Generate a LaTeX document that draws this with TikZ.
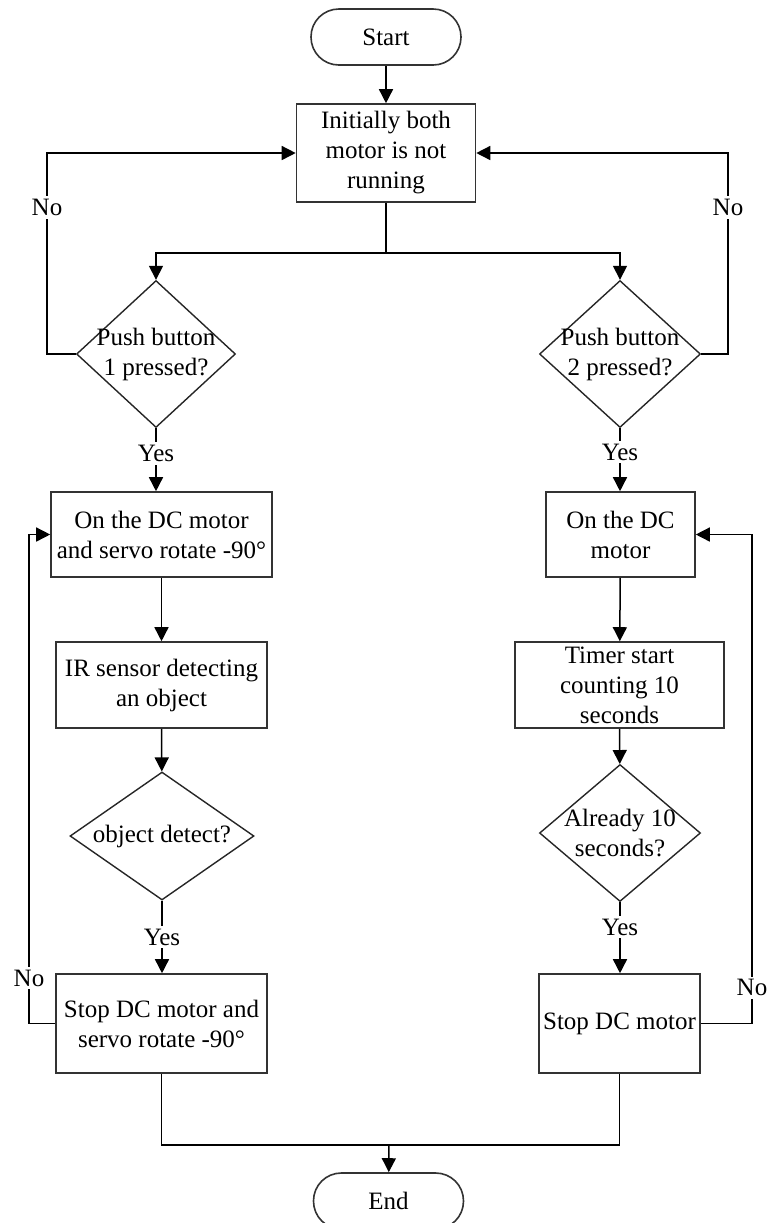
\documentclass[tikz,border=0pt]{standalone}
\usepackage{fontspec}
\setmainfont{Liberation Serif}
\usetikzlibrary{shapes.geometric,arrows.meta}

\tikzset{
  every node/.style={font=\fontsize{12.5}{15}\selectfont},
  line/.style={line width=0.75pt},
  arr/.style={line, -{Triangle[length=7pt,width=7pt]}},
  term/.style={draw=black!80, line width=0.8pt, rounded corners=13.9pt,
    minimum width=75pt, minimum height=28pt},
  proc/.style={draw=black!80, line width=0.8pt, align=center,
    inner xsep=0.5pt, inner ysep=2pt},
  decision/.style={draw=black!85, diamond, inner sep=0pt, line width=0.7pt},
  dtext/.style={align=center},
  lbl/.style={fill=white, inner sep=1.5pt},
}

\begin{document}
\begin{tikzpicture}[x=0.5pt,y=-0.5pt]
\useasboundingbox (0,0) rectangle (767,1223);

% top
\node[term] (start) at (386,37) {Start};
\node[proc, minimum width=89.5pt, minimum height=49pt] (init) at (386,153)
  {Initially both\\motor is not\\running};

\node[decision, minimum width=79.5pt, minimum height=73.5pt,
  label={[dtext]center:Push button\\1 pressed?}] (push1) at (156,354) {};
\node[decision, minimum width=80.5pt, minimum height=73.5pt,
  label={[dtext]center:Push button\\2 pressed?}] (push2) at (620,354) {};

% left branch
\node[proc, minimum width=110.5pt, minimum height=42.5pt] (on1) at (161.5,534.5)
  {On the DC motor\\and servo rotate -90°};
\node[proc, minimum width=105.5pt, minimum height=43pt] (ir) at (161.5,685)
  {IR sensor detecting\\an object};
\node[decision, minimum width=92pt, minimum height=64pt,
  label={[dtext]center:object detect?}] (detect) at (162,836) {};
\node[proc, minimum width=105.5pt, minimum height=49.5pt] (stop1) at (161.5,1023.5)
  {Stop DC motor and\\servo rotate -90°};

% right branch
\node[proc, minimum width=74.5pt, minimum height=42.5pt] (on2) at (620.5,534.5)
  {On the DC\\motor};
\node[proc, minimum width=104.5pt, minimum height=43pt] (timer) at (619.5,685)
  {Timer start\\counting 10\\seconds};
\node[decision, minimum width=80.5pt, minimum height=68.5pt,
  label={[dtext]center:Already 10\\seconds?}] (ten) at (620,833) {};
\node[proc, minimum width=80.5pt, minimum height=49.5pt] (stop2) at (619.5,1023.5)
  {Stop DC motor};

\node[term] (end) at (388.5,1201) {End};

\coordinate (split) at (386,253);
\coordinate (join) at (389,1145);
\coordinate (loopL) at (47,0);
\coordinate (loopR) at (728,0);
\coordinate (loopLL) at (29,0);
\coordinate (loopRR) at (752,0);

% connectors
\draw[arr] (start) -- (init);
\draw[line] (init.south) -- (split);
\draw[arr] (split) -| (push1.north);
\draw[arr] (split) -| (push2.north);

\draw[arr] (push1.west) -- (push1.west -| loopL)
  -- node[lbl,pos=0.73]{No} (init.west -| loopL) -- (init.west);
\draw[arr] (push2.east) -- (push2.east -| loopR)
  -- node[lbl,pos=0.73]{No} (init.east -| loopR) -- (init.east);

\draw[arr] (push1.south) -- node[lbl,pos=0.4]{Yes} (push1.south |- on1.north);
\draw[arr] (push2.south) -- node[lbl,pos=0.38]{Yes} (push2.south |- on2.north);

\draw[arr] (on1) -- (ir);
\draw[arr] (ir) -- (detect);
\draw[arr] (detect.south) -- node[lbl]{Yes} (detect.south |- stop1.north);

\draw[arr] (on2) -- (timer);
\draw[arr] (timer) -- (ten);
\draw[arr] (ten.south) -- node[lbl,pos=0.35]{Yes} (ten.south |- stop2.north);

\draw[arr] (stop1.west) -- (stop1.west -| loopLL)
  -- node[lbl,pos=0.093]{No} (on1.west -| loopLL) -- (on1.west);
\draw[arr] (stop2.east) -- (stop2.east -| loopRR)
  -- node[lbl,pos=0.073]{No} (on2.east -| loopRR) -- (on2.east);

\draw[line] (stop1.south) |- (join);
\draw[line] (stop2.south) |- (join);
\draw[arr] (join) -- (end);

\end{tikzpicture}
\end{document}
